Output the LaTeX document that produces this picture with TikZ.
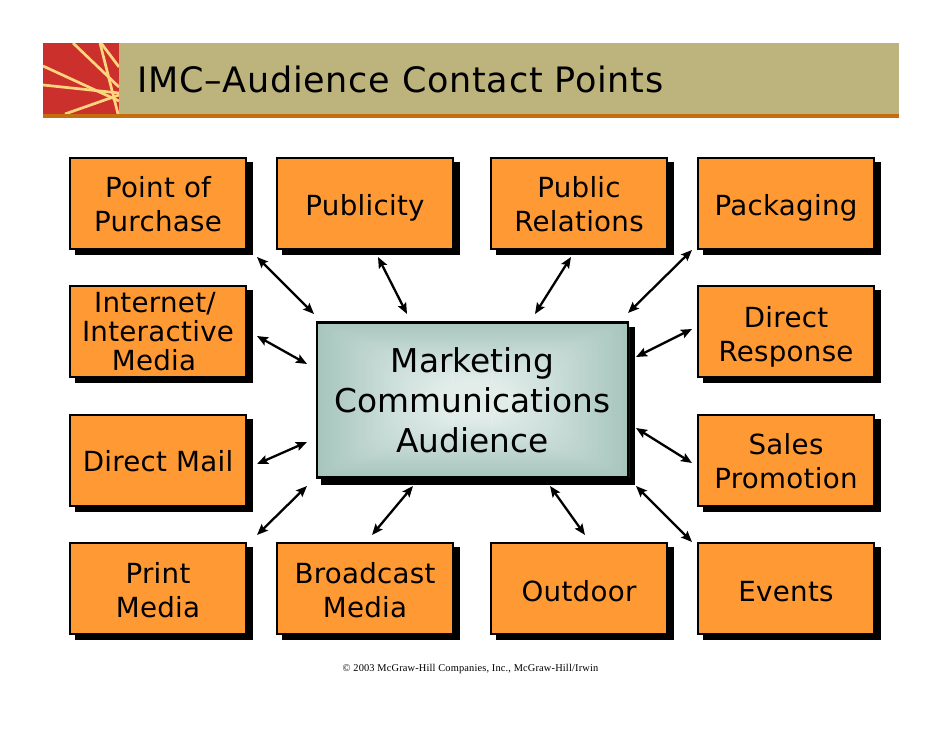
\documentclass[tikz,border=0pt]{standalone}
\usepackage{fontspec}
\setmainfont{DejaVu Sans}
\newfontfamily\footfont[LetterSpace=1.5]{Liberation Serif}
\newfontfamily\titlefont[LetterSpace=2.1]{DejaVu Sans}
\newfontfamily\boxfont[LetterSpace=1]{DejaVu Sans}
\usetikzlibrary{arrows.meta}
\definecolor{boxorange}{RGB}{255,153,51}
\definecolor{headolive}{RGB}{189,179,124}
\definecolor{headbar}{RGB}{196,110,16}
\definecolor{logored}{RGB}{204,48,45}
\definecolor{logoline}{RGB}{255,214,125}
\definecolor{tealout}{RGB}{166,197,189}
\definecolor{tealin}{RGB}{226,237,234}
\tikzset{
  x=1pt,y=-1pt,
  media/.style={minimum width=176pt,minimum height=91pt,inner sep=0pt,draw=black,line width=2pt,fill=boxorange},
  mediatext/.style={inner sep=0pt,align=center,font=\boxfont\fontsize{27.7}{34}\selectfont},
  shadowbox/.style={fill=black},
  link/.style={line width=2.3pt,{Stealth[length=11pt,width=9pt,inset=2pt]}-{Stealth[length=11pt,width=9pt,inset=2pt]}},
  logostroke/.style={draw=logoline,line width=2.7pt}
}
\newcommand{\mediabox}[5]{%
  \fill[shadowbox] (#2+5,#3+5) ++(-88,-46.5) rectangle ++(178,93);
  \node[media] (#1) at (#2,#3) {};
  \node[mediatext] (#1t) at (#2,#4) {#5};
}
\begin{document}
\begin{tikzpicture}
\useasboundingbox (0,0) rectangle (942,728);
% header
\fill[headolive] (43,43) rectangle (899,114);
\fill[logored] (43,43) rectangle (119,114);
\begin{scope}
\clip (43,43) rectangle (119,114);
\draw[logostroke] (73,43) -- (119,87);
\draw[logostroke] (43,66) -- (119,101);
\draw[logostroke] (43,85) -- (119,93);
\draw[logostroke] (65,114) -- (119,95);
\draw[logostroke] (100,43) -- (118,114);
\draw[logostroke] (101,43) -- (119,67);
\end{scope}
\fill[headbar] (43,114) rectangle (899,118);
\node[anchor=base west,inner sep=0pt,font=\titlefont\fontsize{35}{40}\selectfont] (title) at (137,92) {IMC–Audience Contact Points};
% boxes
\mediabox{pop}{158}{203.5}{204.5}{Point of\\Purchase}
\mediabox{pub}{365}{203.5}{207.5}{Publicity}
\mediabox{pr}{579}{203.5}{204.5}{Public\\Relations}
\mediabox{pack}{786}{203.5}{207.5}{Packaging}
\mediabox{net}{158}{331.5}{331.5}{\hspace*{-6pt}Internet/\\[-5pt]Interactive\\[-5pt]\hspace*{-8pt}Media}
\mediabox{dr}{786}{331.5}{336.5}{Direct\\Response}
\mediabox{dm}{158}{460.5}{461.5}{Direct Mail}
\mediabox{sp}{786}{460.5}{461.5}{Sales\\Promotion}
\mediabox{pm}{158}{588.5}{590.5}{Print\\Media}
\mediabox{bm}{365}{588.5}{590.5}{Broadcast\\Media}
\mediabox{out}{579}{588.5}{591.5}{Outdoor}
\mediabox{ev}{786}{588.5}{591.5}{Events}
% centre
\fill[shadowbox] (321,327) rectangle (635,485);
\foreach \i in {0,...,40} {
  \pgfmathsetmacro{\sx}{\i*3.4}
  \pgfmathsetmacro{\sy}{\i*1.7}
  \pgfmathsetmacro{\mixv}{min(100,\i*2.9)}
  \pgfmathsetmacro{\rad}{0.1+\i*1.1}
  \fill[tealin!\mixv!tealout,rounded corners=\rad pt] (316+\sx,321+\sy) rectangle (629-\sx,478-\sy);
}
\node[draw=black,line width=2.4pt,minimum width=311pt,minimum height=155pt,inner sep=0pt,align=center,
  font=\fontsize{32.8}{40}\selectfont] (aud) at (472.5,400) {Marketing\\Communications\\Audience};
% connector ends
\coordinate (a1s) at (257,257); \coordinate (a1e) at (314,314);
\coordinate (a2s) at (378,257); \coordinate (a2e) at (407,314);
\coordinate (a3s) at (571,257); \coordinate (a3e) at (535,314);
\coordinate (a4s) at (692,250); \coordinate (a4e) at (628,313);
\coordinate (a5s) at (257,336); \coordinate (a5e) at (307,364);
\coordinate (a6s) at (692,329); \coordinate (a6e) at (636,357);
\coordinate (a7s) at (692,463); \coordinate (a7e) at (636,428);
\coordinate (a8s) at (257,464); \coordinate (a8e) at (307,442);
\coordinate (a9s) at (257,535); \coordinate (a9e) at (307,486);
\coordinate (a10s) at (372,535); \coordinate (a10e) at (413,486);
\coordinate (a11s) at (585,535); \coordinate (a11e) at (550,486);
\coordinate (a12s) at (692,542); \coordinate (a12e) at (636,486);
\foreach \i in {1,...,12} {\draw[link] (a\i s) -- (a\i e);}
% footer
\node[anchor=base,inner sep=0pt,font=\footfont\fontsize{10.4}{12}\selectfont] (foot) at (470.5,671) {© 2003 McGraw-Hill Companies, Inc., McGraw-Hill/Irwin};
\end{tikzpicture}
\end{document}
